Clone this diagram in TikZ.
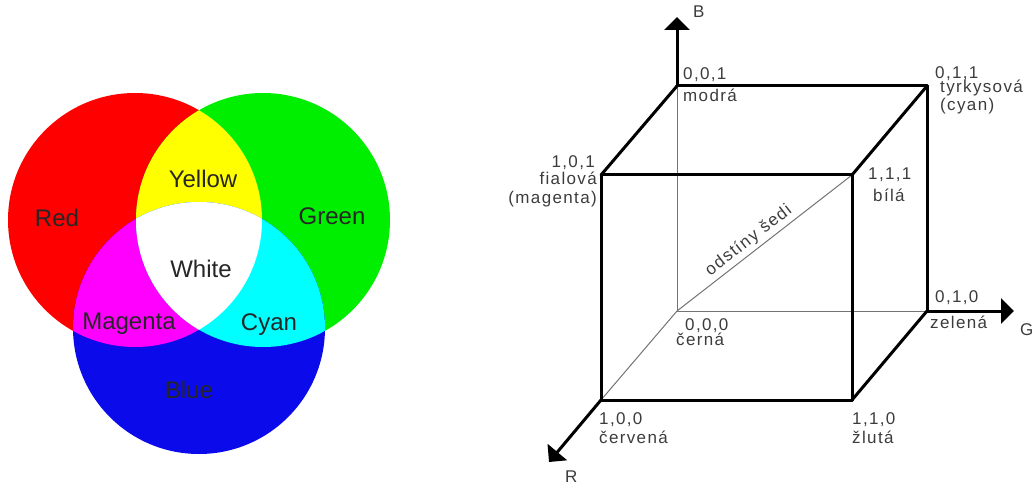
\documentclass[tikz,border=0pt]{standalone}
\usepackage{fontspec}
\setmainfont{Liberation Sans}
\newfontfamily\cubefont[LetterSpace=8]{Liberation Sans}
\usetikzlibrary{arrows.meta}
\definecolor{vred}{RGB}{255,0,0}
\definecolor{vgreen}{RGB}{0,238,0}
\definecolor{vblue}{RGB}{10,10,235}
\definecolor{vyellow}{RGB}{255,255,0}
\definecolor{vmagenta}{RGB}{255,0,255}
\definecolor{vcyan}{RGB}{0,255,255}
\definecolor{cubetext}{RGB}{60,60,60}
\tikzset{
  vlabel/.style={anchor=base, inner sep=0pt, text=black!85, font=\fontsize{24}{24}\selectfont},
  clabel/.style={anchor=base west, inner sep=0pt, text=cubetext, font=\cubefont\fontsize{17}{17}\selectfont},
  crlabel/.style={clabel, anchor=base east},
  thinedge/.style={draw=black!55, line width=1pt},
  thickedge/.style={draw=black, line width=3pt, line cap=round, line join=round},
  axis/.style={draw=black, line width=3pt, -{Triangle[length=13pt,width=25pt]}}
}
\begin{document}
\begin{tikzpicture}[x=1pt,y=-1pt]
\useasboundingbox (0,0) rectangle (1035,486);
% ---------- Venn diagram ----------
\def\circR{(135,220) circle[radius=127pt]}
\def\circG{(263,220) circle[radius=127pt]}
\def\circB{(199,328) circle[radius=126pt]}
\fill[vred] \circR;
\fill[vgreen] \circG;
\fill[vblue] \circB;
\begin{scope}\clip \circR; \fill[vyellow] \circG; \end{scope}
\begin{scope}\clip \circR; \fill[vmagenta] \circB; \end{scope}
\begin{scope}\clip \circG; \fill[vcyan] \circB; \end{scope}
\begin{scope}\clip \circR; \clip \circG; \fill[white] \circB; \end{scope}
\node[vlabel] (lred) at (57,227) {Red};
\node[vlabel] (lyellow) at (203,188) {Yellow};
\node[vlabel] (lgreen) at (332,225) {Green};
\node[vlabel] (lwhite) at (201,277) {White};
\node[vlabel] (lmagenta) at (129,329) {Magenta};
\node[vlabel] (lcyan) at (269,330) {Cyan};
\node[vlabel] (lblue) at (189,398) {Blue};
% ---------- RGB cube ----------
\coordinate (O) at (677,311);
\coordinate (R) at (601,400);
\coordinate (G) at (927,311);
\coordinate (B) at (677,86);
\coordinate (RG) at (852,400);
\coordinate (RB) at (601,175);
\coordinate (GB) at (927,86);
\coordinate (W) at (852,175);
\coordinate (Btip) at (677,17);
\coordinate (Gtip) at (1014,311);
\coordinate (Rtip) at (549,462);
% hidden (thin) edges
\draw[thinedge] (O) -- (R);
\draw[thinedge] (O) -- (G);
\draw[thinedge] (O) -- (B);
\draw[thinedge] (O) -- (W) node[pos=0.45, sloped, above=3pt, inner sep=0pt, text=cubetext, font=\cubefont\fontsize{17}{17}\selectfont] (grey) {odstíny šedi};
% visible (thick) edges
\draw[thickedge] (RB) -- (W) -- (RG) -- (R) -- cycle;
\draw[thickedge] (B) -- (GB) -- (G);
\draw[thickedge] (B) -- (RB);
\draw[thickedge] (GB) -- (W);
\draw[thickedge] (G) -- (RG);
% axes
\draw[axis] (B) -- (Btip);
\draw[axis] (G) -- (Gtip);
\draw[axis] (R) -- (Rtip);
% labels
\node[clabel] (lB) at (693,18) {B};
\node[clabel] (lG) at (1020,335) {G};
\node[clabel] (lR) at (565,482) {R};
\node[clabel] (l001) at (683,80) {0,0,1};
\node[clabel] (l001n) at (683,102) {modrá};
\node[clabel] (l011) at (935,79) {0,1,1};
\node[clabel] (l011n) at (940,93) {tyrkysová};
\node[clabel] (l011c) at (940,111) {(cyan)};
\node[crlabel] (l101) at (595,168) {1,0,1};
\node[crlabel] (l101n) at (597,185) {fialová};
\node[crlabel] (l101c) at (597,204) {(magenta)};
\node[clabel] (l111) at (868,180) {1,1,1};
\node[clabel] (l111n) at (873,202) {bílá};
\node[clabel] (l010) at (935,302) {0,1,0};
\node[clabel] (l010n) at (930,328) {zelená};
\node[clabel] (l000) at (685,330) {0,0,0};
\node[clabel] (l000n) at (676,345) {černá};
\node[clabel] (l100) at (599,424) {1,0,0};
\node[clabel] (l100n) at (599,443) {červená};
\node[clabel] (l110) at (852,424) {1,1,0};
\node[clabel] (l110n) at (852,443) {žlutá};
\end{tikzpicture}
\end{document}
